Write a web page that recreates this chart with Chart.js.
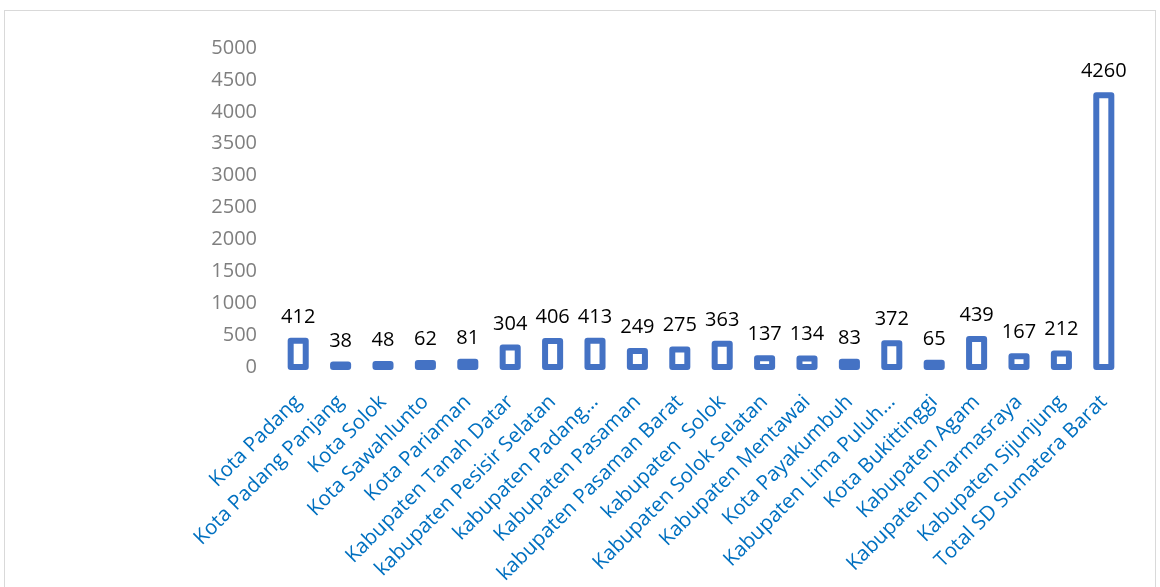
<!DOCTYPE html>
<html>
<head>
<meta charset="utf-8">
<script src="https://cdn.jsdelivr.net/npm/chart.js@4.4.1/dist/chart.umd.min.js"></script>
<style>
  html,body{margin:0;padding:0;background:#fff;overflow:hidden}
  #wrap{position:relative;width:1160px;height:587px}
  #frame{position:absolute;left:4px;top:10px;width:1152px;height:600px;border:1px solid #d9d9d9;box-sizing:border-box}
  #sd{position:absolute;left:0;top:0}
</style>
</head>
<body>
<div id="wrap">
  <div id="frame"></div>
  <canvas id="sd" width="1160" height="587"></canvas>
</div>
<script>
// ===== data =====
const wilayah = [
  "Kota Padang","Kota Padang Panjang","Kota Solok","Kota Sawahlunto","Kota Pariaman",
  "Kabupaten Tanah Datar","kabupaten Pesisir Selatan","kabupaten Padang…","Kabupaten Pasaman",
  "kabupaten Pasaman Barat","kabupaten  Solok","Kabupaten Solok Selatan","Kabupaten Mentawai",
  "Kota Payakumbuh","Kabupaten Lima Puluh…","Kota Bukittinggi","Kabupaten Agam",
  "Kabupaten Dharmasraya","Kabupaten Sijunjung","Total SD Sumatera Barat"
];
const jumlahSD = [412,38,48,62,81,304,406,413,249,275,363,137,134,83,372,65,439,167,212,4260];
const yTicks = [0,500,1000,1500,2000,2500,3000,3500,4000,4500,5000];

const FONT = "'Open Sans', sans-serif";
const BAR_BLUE = "#4472C4";

// garis tepi batang digambar di tengah tepi (seperti Excel), jadi batang kecil tetap terlihat
const outlineBars = {
  id: "outlineBars",
  afterDatasetsDraw(chart){
    const ctx = chart.ctx;
    const meta = chart.getDatasetMeta(0);
    ctx.save();
    ctx.strokeStyle = BAR_BLUE;
    ctx.lineWidth = 6;
    ctx.lineJoin = "round";
    meta.data.forEach(bar => {
      const p = bar.getProps(["x","y","base","width"], true);
      ctx.strokeRect(p.x - p.width/2, p.y, p.width, p.base - p.y);
    });
    ctx.restore();
  }
};

// angka di atas tiap batang
const valueLabels = {
  id: "valueLabels",
  afterDatasetsDraw(chart){
    const ctx = chart.ctx;
    const meta = chart.getDatasetMeta(0);
    ctx.save();
    ctx.font = "20px " + FONT;
    ctx.fillStyle = "#000";
    ctx.textAlign = "center";
    ctx.textBaseline = "alphabetic";
    meta.data.forEach((bar, i) => {
      ctx.fillText(String(jumlahSD[i]), bar.x, bar.y - 18);
    });
    ctx.restore();
  }
};

new Chart(document.getElementById("sd"), {
  type: "bar",
  data: {
    labels: wilayah,
    datasets: [{
      data: jumlahSD,
      backgroundColor: "#ffffff",
      borderWidth: 0,
      barPercentage: 0.71,
      categoryPercentage: 0.5
    }]
  },
  options: {
    responsive: false,
    animation: false,
    layout: {padding: {left: 0, top: 48, right: 35, bottom: 0}},
    plugins: {legend: {display: false}, tooltip: {enabled: false}},
    scales: {
      x: {
        grid: {display: false},
        border: {display: false},
        ticks: {
          color: "#0070C0",
          font: {family: FONT, size: 20.5},
          maxRotation: 45, minRotation: 45,
          autoSkip: false,
          padding: 15
        },
        afterFit(s){ s.height = 220; }
      },
      y: {
        min: 0, max: 5000,
        grid: {display: false},
        border: {display: false},
        afterBuildTicks(s){ s.ticks = yTicks.map(v => ({value: v})); },
        ticks: {
          color: "#7f7f7f",
          font: {family: FONT, size: 20},
          padding: 12,
          callback: v => String(v)
        },
        afterFit(s){ s.width = 277; }
      }
    }
  },
  plugins: [outlineBars, valueLabels]
});
</script>
</body>
</html>
